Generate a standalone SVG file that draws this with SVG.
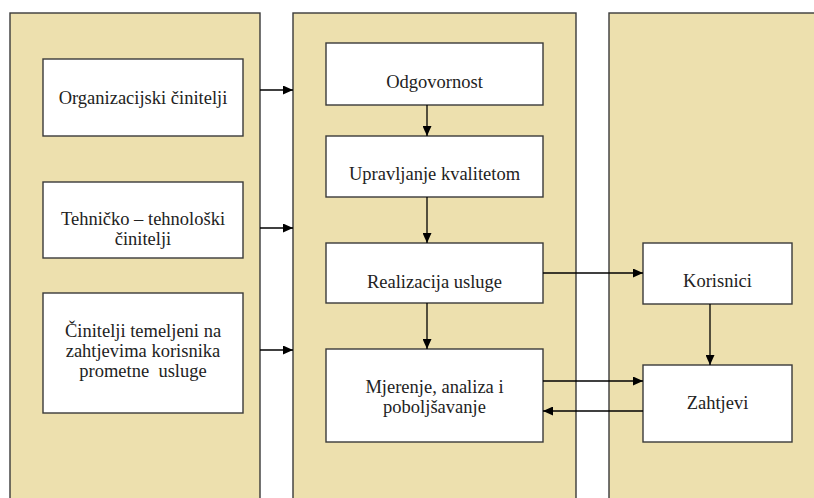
<svg xmlns="http://www.w3.org/2000/svg" width="814" height="498" viewBox="0 0 814 498">
<defs>
<marker id="ah" markerUnits="userSpaceOnUse" markerWidth="11" markerHeight="9" refX="10" refY="4.5" orient="auto">
<path d="M0,0 L10,4.5 L0,9 z" fill="#000"/>
</marker>
<style>
.panel{fill:#EDE0AE;stroke:#3a3a3a;stroke-width:1.4}
.box{fill:#fff;stroke:#3a3a3a;stroke-width:1.4}
.t{font-family:'Liberation Serif','DejaVu Serif',serif;font-size:18.5px;fill:#222;text-anchor:middle}
.c{fill:none;stroke:#000;stroke-width:1.3}
</style>
</defs>
<rect width="814" height="498" fill="#fff"/>
<g id="panel-left"><rect class="panel" x="10" y="13" width="250" height="500"/></g>
<g id="panel-middle"><rect class="panel" x="293" y="13" width="283" height="500"/></g>
<g id="panel-right"><rect class="panel" x="609" y="13" width="220" height="500"/></g>

<g class="t" font-family="Liberation Serif, serif">
<g id="organizacijski"><rect class="box" x="43" y="59" width="200" height="77"/><text x="143" y="104">Organizacijski činitelji</text></g>
<g id="tehnicko"><rect class="box" x="43" y="182" width="200" height="76"/><text x="143" y="225">Tehničko – tehnološki</text><text x="143" y="245">činitelji</text></g>
<g id="cinitelji-zahtjevi"><rect class="box" x="43" y="293" width="200" height="120"/><text x="143" y="337">Činitelji temeljeni na</text><text x="143" y="357">zahtjevima korisnika</text><text x="143" y="377" xml:space="preserve">prometne  usluge</text></g>

<g id="odgovornost"><rect class="box" x="326" y="43" width="217" height="62"/><text x="434.5" y="88">Odgovornost</text></g>
<g id="upravljanje"><rect class="box" x="326" y="136" width="217" height="61"/><text x="434.5" y="180">Upravljanje kvalitetom</text></g>
<g id="realizacija"><rect class="box" x="326" y="243" width="217" height="60"/><text x="434.5" y="288">Realizacija usluge</text></g>
<g id="mjerenje"><rect class="box" x="326" y="349" width="217" height="93"/><text x="434.5" y="393">Mjerenje, analiza i</text><text x="434.5" y="413">poboljšavanje</text></g>

<g id="korisnici"><rect class="box" x="643" y="243" width="149" height="61"/><text x="717.5" y="287">Korisnici</text></g>
<g id="zahtjevi"><rect class="box" x="643" y="365" width="149" height="77"/><text x="717.5" y="409">Zahtjevi</text></g>
</g>

<g id="connectors">
<line class="c" x1="260" y1="90" x2="293" y2="90" marker-end="url(#ah)"/>
<line class="c" x1="260" y1="228" x2="293" y2="228" marker-end="url(#ah)"/>
<line class="c" x1="260" y1="350" x2="293" y2="350" marker-end="url(#ah)"/>
<line class="c" x1="427" y1="105" x2="427" y2="136" marker-end="url(#ah)"/>
<line class="c" x1="427" y1="197" x2="427" y2="243" marker-end="url(#ah)"/>
<line class="c" x1="427" y1="303" x2="427" y2="349" marker-end="url(#ah)"/>
<line class="c" x1="543" y1="273" x2="643" y2="273" marker-end="url(#ah)"/>
<line class="c" x1="543" y1="381" x2="643" y2="381" marker-end="url(#ah)"/>
<line class="c" x1="643" y1="411" x2="543" y2="411" marker-end="url(#ah)"/>
<line class="c" x1="710" y1="304" x2="710" y2="365" marker-end="url(#ah)"/>
</g>
</svg>
